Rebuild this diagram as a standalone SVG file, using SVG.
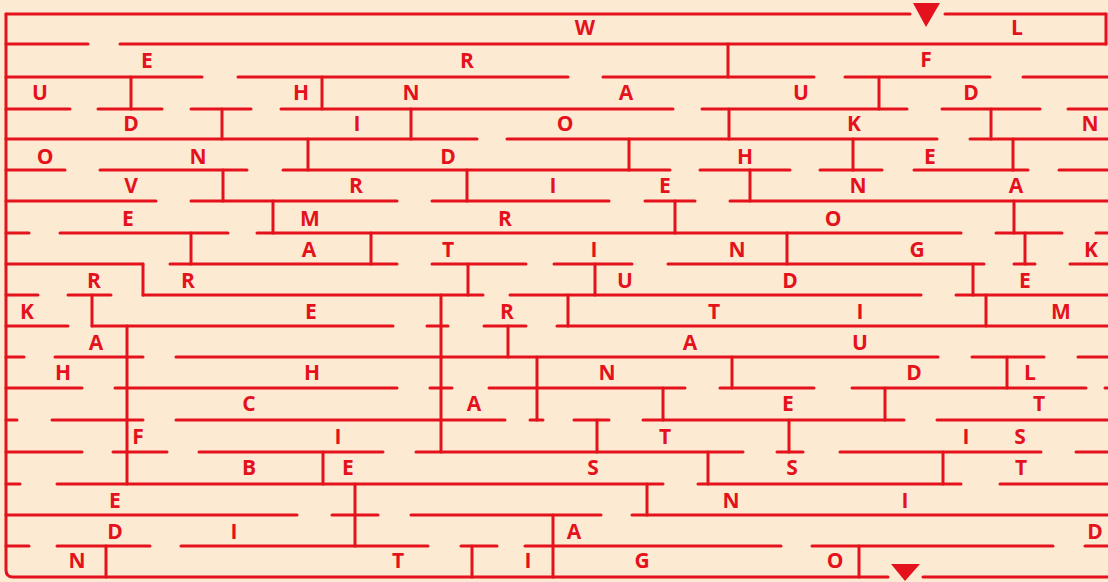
<svg xmlns="http://www.w3.org/2000/svg" width="1108" height="582" viewBox="0 0 1108 582">
<style>
.w{fill:none;stroke:#e4121c;stroke-width:3;stroke-linecap:round;stroke-linejoin:round}
.t{font-family:"Open Sans","Liberation Sans",sans-serif;font-weight:700;font-size:21px;fill:#e4121c;text-anchor:middle}
.m{fill:#e4121c}
</style>
<rect width="1108" height="582" fill="#fdead3"/>
<g id="border">
<path class="w" d="M6 14V570Q6 577 13 577H888M923 577H1108M1106 14V44"/>
</g>
<g id="horizontal-walls">
<path class="w" d="M6 14H910M945 14H1106
M6 44H88M120 44H1106
M6 77H202M238 77H568M603 77H814M845 77H990M1023 77H1108
M6 109H70M98 109H162M191 109H251M281 109H673M702 109H907M942 109H1040M1068 109H1108
M6 139H477M507 139H937M970 139H1108
M6 170H65M100 170H247M283 170H670M700 170H790M820 170H882M914 170H1028M1059 170H1108
M6 201H156M191 201H397M432 201H609M645 201H695M730 201H1108
M6 233H29M60 233H228M257 233H961M996 233H1062M1096 233H1108
M6 264H143M170 264H397M432 264H526M554 264H632M668 264H984M1014 264H1035M1070 264H1108
M6 295H38M68 295H111M143 295H483M510 295H921M956 295H1108
M6 326H68M92 326H393M427 326H448M484 326H526M557 326H1108
M6 357H24M55 357H143M176 357H938M972 357H1044M1078 357H1108
M6 388H82M115 388H397M430 388H452M489 388H685M720 388H814M852 388H1086M1105 388H1108
M6 420H17M52 420H143M176 420H505M530 420H543M574 420H609M643 420H904M937 420H1108
M6 452H82M113 452H167M199 452H383M416 452H743M777 452H803M840 452H1041M1076 452H1108
M6 484H20M57 484H663M698 484H961M1000 484H1108
M6 515H297M332 515H378M411 515H601M632 515H1108
M6 546H29M57 546H150M181 546H428M461 546H497M525 546H781M812 546H1053M1085 546H1108"/>
</g>
<g id="vertical-walls">
<path class="w" d="M728 44V77
M131 77V109M322 77V109M879 77V109
M222 109V139M411 109V139M729 109V139M991 109V139
M308 139V170M629 139V170M853 139V170M1013 139V170
M223 170V201M467 170V201M750 170V201
M273 201V233M675 201V233M1014 201V233
M191 233V264M371 233V264M787 233V264M1025 233V264
M143 264V295M468 264V295M595 264V295M973 264V295
M92 295V326M441 295V452M568 295V326M986 295V326
M127 326V484M508 326V357
M537 357V420M732 357V388M1007 357V388
M663 388V420M885 388V420
M597 420V452M789 420V452
M323 452V484M708 452V484M943 452V484
M355 484V546M647 484V515
M553 515V577
M106 546V577M472 546V577M859 546V577"/>
</g>
<g id="markers">
<polygon class="m" points="913,3 940,3 926,27"/>
<polygon class="m" points="891,564 920,564 905,581"/>
</g>
<g id="letters" class="t">
<text x="585" y="35">W</text><text x="1017" y="35">L</text>
<text x="147" y="68">E</text><text x="467" y="68">R</text><text x="926" y="67">F</text>
<text x="40" y="100">U</text><text x="301" y="100">H</text><text x="411" y="100">N</text><text x="626" y="100">A</text><text x="801" y="100">U</text><text x="971" y="100">D</text>
<text x="131" y="131">D</text><text x="357" y="131">I</text><text x="565" y="131">O</text><text x="854" y="131">K</text><text x="1090" y="131">N</text>
<text x="45" y="164">O</text><text x="198" y="164">N</text><text x="448" y="164">D</text><text x="745" y="164">H</text><text x="930" y="164">E</text>
<text x="131" y="193">V</text><text x="356" y="193">R</text><text x="553" y="193">I</text><text x="665" y="193">E</text><text x="858" y="193">N</text><text x="1016" y="193">A</text>
<text x="128" y="226">E</text><text x="310" y="226">M</text><text x="505" y="226">R</text><text x="833" y="226">O</text>
<text x="309" y="257">A</text><text x="448" y="257">T</text><text x="594" y="257">I</text><text x="737" y="257">N</text><text x="917" y="257">G</text><text x="1091" y="257">K</text>
<text x="94" y="288">R</text><text x="188" y="288">R</text><text x="625" y="288">U</text><text x="790" y="288">D</text><text x="1025" y="288">E</text>
<text x="27" y="319">K</text><text x="311" y="319">E</text><text x="507" y="319">R</text><text x="714" y="319">T</text><text x="860" y="319">I</text><text x="1061" y="319">M</text>
<text x="96" y="350">A</text><text x="690" y="350">A</text><text x="860" y="350">U</text>
<text x="63" y="380">H</text><text x="312" y="380">H</text><text x="607" y="380">N</text><text x="914" y="380">D</text><text x="1030" y="380">L</text>
<text x="249" y="411">C</text><text x="474" y="411">A</text><text x="788" y="411">E</text><text x="1039" y="411">T</text>
<text x="138" y="444">F</text><text x="338" y="444">I</text><text x="665" y="444">T</text><text x="966" y="444">I</text><text x="1020" y="444">S</text>
<text x="249" y="475">B</text><text x="348" y="475">E</text><text x="593" y="475">S</text><text x="792" y="475">S</text><text x="1021" y="475">T</text>
<text x="115" y="508">E</text><text x="731" y="508">N</text><text x="905" y="508">I</text>
<text x="115" y="539">D</text><text x="234" y="539">I</text><text x="574" y="539">A</text><text x="1095" y="539">D</text>
<text x="77" y="568">N</text><text x="398" y="568">T</text><text x="528" y="568">I</text><text x="642" y="568">G</text><text x="835" y="568">O</text>
</g>
</svg>
